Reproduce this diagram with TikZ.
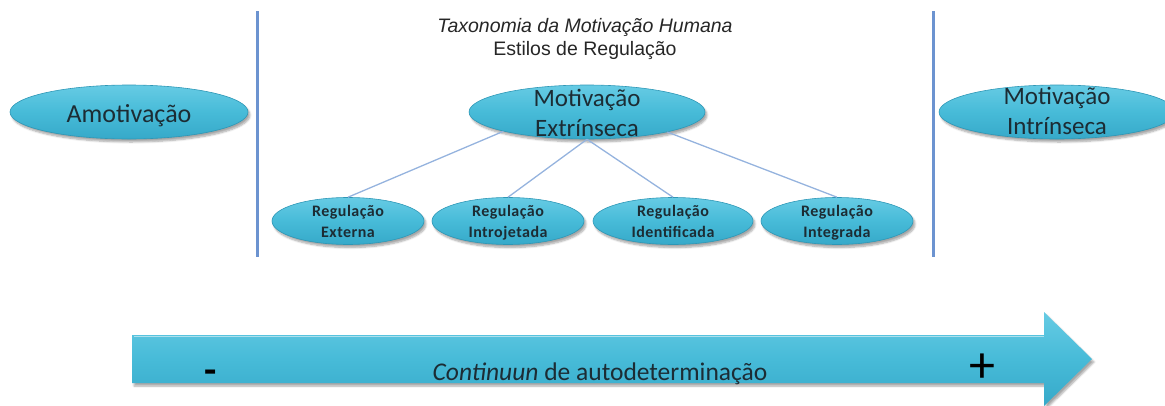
\documentclass[tikz,border=0pt]{standalone}
\usepackage{fontspec}
\setmainfont{Carlito}
\newfontfamily\arialf{Liberation Sans}
\newfontfamily\regfont[LetterSpace=3]{Carlito}
\usetikzlibrary{shapes.geometric,shadows.blur}
\definecolor{bubfill}{HTML}{47BBD8}
\definecolor{bubtop}{HTML}{66CBE4}
\definecolor{bubbot}{HTML}{36A9C9}
\definecolor{bubrim}{HTML}{2E97B6}
\definecolor{sepline}{HTML}{6C93D0}
\definecolor{conline}{HTML}{95B3DE}
\definecolor{txtdark}{HTML}{1C2C34}
\newcommand{\evenln}{\vphantom{Ãgj}}
\tikzset{
  bubble/.style={ellipse, inner sep=0pt, draw=bubrim, line width=0.6pt,
    top color=bubtop, bottom color=bubbot, middle color=bubfill,
    blur shadow={shadow xshift=2pt, shadow yshift=-3pt, shadow opacity=35, shadow blur steps=6}},
  bigbubble/.style={bubble, minimum width=236pt, minimum height=54pt},
  smallbubble/.style={bubble, minimum width=152pt, minimum height=47pt},
  biglbl/.style={inner sep=0pt, align=center, text=txtdark, font=\fontsize{25}{30}\selectfont},
  smalllbl/.style={inner sep=0pt, align=center, text=txtdark, font=\regfont\bfseries\fontsize{16}{21}\selectfont},
  titlelbl/.style={inner sep=0pt, anchor=base, text=black!85, font=\arialf\fontsize{19.5}{23}\selectfont},
  sep/.style={draw=sepline, line width=3pt},
  conn/.style={draw=conline, line width=1.3pt}
}
\begin{document}
\begin{tikzpicture}[x=1pt,y=-1pt]
\useasboundingbox (0,0) rectangle (1165,405);
% separators
\coordinate (s1a) at (257,11); \coordinate (s1b) at (257,257);
\coordinate (s2a) at (933,11); \coordinate (s2b) at (933,257);
\draw[sep] (s1a) -- (s1b);
\draw[sep] (s2a) -- (s2b);
% title
\node[titlelbl] (t1) at (585,32) {\itshape Taxonomia da Motivação Humana};
\node[titlelbl] (t2) at (585,55) {Estilos de Regulação};
% positions
\coordinate (pe) at (587,112);
\coordinate (c1) at (348,221);
\coordinate (c2) at (508,221);
\coordinate (c3) at (673,221);
\coordinate (c4) at (837,221);
% big ellipses
\node[bigbubble, minimum width=238pt] (amo) at (129,112) {};
\node[biglbl, font=\fontsize{26}{30}\selectfont, anchor=base] (amol) at (129,122) {Amotivação};
\node[bigbubble] (ext) at (pe) {};
\node[bigbubble] (int) at (1057,112) {};
% small ellipses
\node[smallbubble] (r1) at (c1) {};
\node[smallbubble] (r2) at (c2) {};
\node[smallbubble, minimum width=160pt] (r3) at (c3) {};
\node[smallbubble] (r4) at (c4) {};
% connectors
\draw[conn] (ext.193) -- (r1.north);
\draw[conn] (ext.south) -- (r2.north);
\draw[conn] (ext.south) -- (r3.north);
\draw[conn] (ext.346) -- (r4.north);
% labels
\node[biglbl] (extl) at (587,114) {Motivação\evenln\\Extrínseca\evenln};
\node[biglbl] (intl) at (1057,112) {Motivação\evenln\\Intrínseca\evenln};
\node[smalllbl] (r1l) at (348,222) {Regulação\evenln\\Externa\evenln};
\node[smalllbl] (r2l) at (508,222) {Regulação\evenln\\Introjetada\evenln};
\node[smalllbl] (r3l) at (673,222) {Regulação\evenln\\Identificada\evenln};
\node[smalllbl] (r4l) at (837,222) {Regulação\evenln\\Integrada\evenln};
% continuum arrow
\path[top color=bubtop, bottom color=bubbot, middle color=bubfill,
  blur shadow={shadow xshift=2pt, shadow yshift=-3pt, shadow opacity=35, shadow blur steps=6}]
  (132,335) -- (1044,335) -- (1044,312) -- (1092,359) -- (1044,406) -- (1044,383) -- (132,383) -- cycle;
\draw[white!55!bubfill, line width=1.5pt] (134,336.5) -- (1044,336.5);
\node[inner sep=0pt, anchor=base, text=txtdark, font=\fontsize{25.5}{30}\selectfont] (cont) at (600,380) {\textit{Continuun} de autodeterminação};
\node[inner sep=0pt, text=black, font=\bfseries\fontsize{40}{40}\selectfont] (minus) at (211,377) {-};
\node[inner sep=0pt, text=black, font=\fontsize{52}{52}\selectfont] (plus) at (982,368) {+};
\end{tikzpicture}
\end{document}
